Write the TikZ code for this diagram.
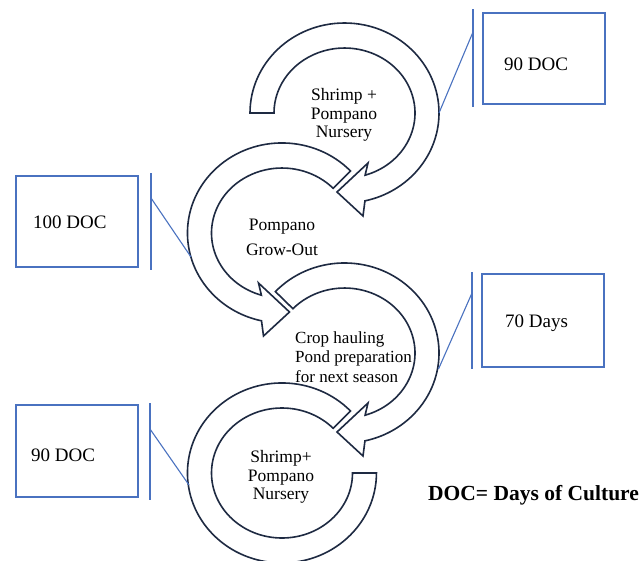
\documentclass[tikz,border=0pt]{standalone}
\usepackage{fontspec}
\setmainfont{Liberation Serif}
\definecolor{boxblue}{HTML}{4A72C0}
\definecolor{arrowink}{HTML}{1E2A42}
\tikzset{
  arrowband/.style={draw=arrowink, line width=1.6pt, fill=white, line join=miter},
  docbox/.style={draw=boxblue, line width=1.2pt, rectangle, minimum width=122pt, minimum height=91pt, inner sep=0pt},
  linkline/.style={draw=boxblue, line width=1.1pt},
  steplabel/.style={font=\fontsize{17.5}{18.5}\selectfont, align=center, inner sep=0pt},
  boxlabel/.style={font=\fontsize{19}{22}\selectfont, inner sep=0pt, anchor=base west}
}
\begin{document}
\begin{tikzpicture}[x=1pt,y=-1pt]
\clip (0,0) rectangle (642,560);
\fill[white] (0,0) rectangle (642,560);

% A1 : top circular arrow (clockwise)
\draw[arrowband] (250,113) arc[start angle=180,end angle=437.5,x radius=94.5,y radius=90]
  -- (363,216) -- (337,192) -- (368,163) -- (365.1,175.2)
  arc[start angle=433,end angle=180,x radius=70.5,y radius=65] -- cycle;
% A2 : left circular arrow (anticlockwise)
\draw[arrowband] (350.5,171) arc[start angle=316.5,end angle=102.5,x radius=94.5,y radius=90]
  -- (263.5,336) -- (289.5,312) -- (258.5,283) -- (261.4,295.2)
  arc[start angle=107,end angle=316.5,x radius=70.5,y radius=65] -- cycle;
% A3 : right circular arrow (clockwise)
\draw[arrowband] (275.4,291.6) arc[start angle=223,end angle=437.5,x radius=94.5,y radius=90]
  -- (363,456) -- (337,432) -- (368,403) -- (365.1,415.2)
  arc[start angle=433,end angle=223,x radius=70.5,y radius=65] -- cycle;
% A4 : bottom open ring
\draw[arrowband] (350.5,411) arc[start angle=316.5,end angle=0,x radius=94.5,y radius=90]
  -- (352.5,473)
  arc[start angle=0,end angle=316.5,x radius=70.5,y radius=65] -- cycle;

% stage labels
\node[steplabel] (s1) at (344,115) {Shrimp +\\Pompano\\Nursery};
\node[steplabel, font=\fontsize{17.5}{25}\selectfont] (s2) at (282,237) {Pompano\\Grow-Out};
\node[steplabel, align=left, anchor=west, font=\fontsize{17}{19.5}\selectfont] (s3) at (295,357) {Crop hauling\\Pond preparation\\for next season};
\node[steplabel] (s4) at (281,477) {Shrimp+\\Pompano\\Nursery};

% boxes
\node[docbox] (b1) at (544,58.5) {};
\node[docbox] (b2) at (77,221.5) {};
\node[docbox, minimum height=93pt] (b3) at (543,320.5) {};
\node[docbox, minimum height=92pt] (b4) at (77,451) {};
\node[boxlabel] (l1) at (504,70) {90 DOC};
\node[boxlabel] (l2) at (33,228) {100 DOC};
\node[boxlabel] (l3) at (505,327) {70 Days};
\node[boxlabel] (l4) at (31,461) {90 DOC};

% bars and callout lines
\coordinate (p1t) at (473,9);   \coordinate (p1b) at (473,107);
\coordinate (p2t) at (151,173); \coordinate (p2b) at (151,270);
\coordinate (p3t) at (472,272); \coordinate (p3b) at (472,369);
\coordinate (p4t) at (150,403); \coordinate (p4b) at (150,500);
\draw[linkline] (p1t) -- (p1b);
\draw[linkline] (p2t) -- (p2b);
\draw[linkline] (p3t) -- (p3b);
\draw[linkline] (p4t) -- (p4b);
\coordinate (k1) at (473,32);  \coordinate (a1) at (439,113);
\coordinate (k2) at (151,198); \coordinate (a2) at (191,257);
\coordinate (k3) at (472,293); \coordinate (a3) at (438.5,369);
\coordinate (k4) at (150,429); \coordinate (a4) at (189,485);
\draw[linkline] (k1) -- (a1);
\draw[linkline] (k2) -- (a2);
\draw[linkline] (k3) -- (a3);
\draw[linkline] (k4) -- (a4);

% legend
\node[font=\fontsize{21.5}{24}\selectfont\bfseries, anchor=base west, inner sep=0pt] (legend) at (428,500) {DOC= Days of Culture};
\end{tikzpicture}
\end{document}
